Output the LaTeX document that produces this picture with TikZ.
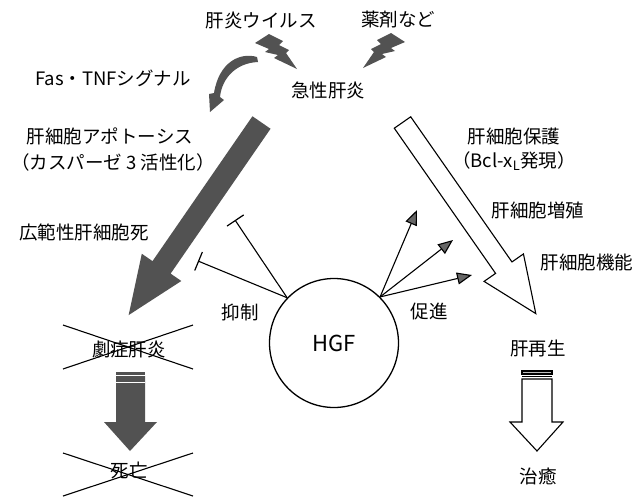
\documentclass[tikz,border=0pt]{standalone}
\usepackage{fontspec}
\setmainfont{Noto Sans CJK JP}
\usetikzlibrary{arrows.meta}
\begin{document}
\begin{tikzpicture}[x=1pt,y=-1pt,
  lbl/.style={font=\fontsize{18.5}{22}\selectfont, inner sep=0pt},
  darkfill/.style={fill=black!68},
  ln/.style={line width=1.1pt},
  promote/.style={ln,-{Triangle[length=15pt,width=12pt,fill=black!60]}},
  inhibit/.style={ln,-{Bar[width=20pt,line width=1.2pt]}},
  bolt/.style={darkfill},
]
\useasboundingbox[fill=white] (0,0) rectangle (641,499);

% texts
\node[lbl] (virus) at (261,20) {肝炎ウイルス};
\node[lbl] (drug) at (398,20) {薬剤など};
\node[lbl] (acute) at (328,90) {急性肝炎};
\node[lbl] (fas) at (113,78) {Fas・TNFシグナル};
\node[lbl] (apop) at (110,136) {肝細胞アポトーシス};
\node[lbl] (casp) at (113,162) {（カスパーゼ 3 活性化）};
\node[lbl] (wide) at (84,232) {広範性肝細胞死};
\node[lbl] (fulm) at (129,349) {劇症肝炎};
\node[lbl] (death) at (129,470) {死亡};
\node[lbl] (inh) at (240,312) {抑制};
\node[lbl] (pro) at (429,312) {促進};
\node[circle,draw,line width=1.3pt,minimum size=129pt,inner sep=0pt,
      font=\fontsize{22}{26}\selectfont] (hgf) at (334,343) {HGF};
\node[lbl] (prot) at (514,136) {肝細胞保護};
\node[lbl] (bcl) at (514,161) {（Bcl-x\textsubscript{L}発現）};
\node[lbl] (prol) at (538,210) {肝細胞増殖};
\node[lbl] (func) at (587,262) {肝細胞機能};
\node[lbl] (regen) at (538,348) {肝再生};
\node[lbl] (cure) at (538,476) {治癒};

% crosses
\draw[ln] (63,325) -- (193,369);
\draw[ln] (63,369) -- (193,325);
\draw[ln] (63,453) -- (193,496);
\draw[ln] (63,496) -- (193,453);

% lightning bolts
\begin{scope}[shift={(297,69)}]
\fill[bolt] (-42,-26) -- (-28,-35) -- (-14,-28) -- (-18,-24) -- (-8,-19) -- (-11,-16) -- (0,0) -- (-23,-11) -- (-19,-14) -- (-32,-17) -- (-28,-20) -- cycle;
\end{scope}
\begin{scope}[shift={(363,68)},xscale=-1]
\fill[bolt] (-42,-26) -- (-28,-35) -- (-14,-28) -- (-18,-24) -- (-8,-19) -- (-11,-16) -- (0,0) -- (-23,-11) -- (-19,-14) -- (-32,-17) -- (-28,-20) -- cycle;
\end{scope}

% curved arrow
\fill[darkfill] (257,57) .. controls (240,52) and (219,62) .. (214,93) -- (209,94) -- (210,112) -- (224,100) -- (220,97) .. controls (222,78) and (236,63) .. (258,62) -- cycle;

% dark diagonal arrow
\begin{scope}[shift={(261.5,122.5)}, rotate=-124.6]
\fill[darkfill] (0,-11) -- (176,-11) -- (176,-24) -- (234,0) -- (176,24) -- (176,11) -- (0,11) -- cycle;
\end{scope}

% white diagonal arrow
\begin{scope}[shift={(402.5,122.5)}, rotate=-55.1]
\draw[ln,fill=white] (0,-10) -- (177,-10) -- (177,-24) -- (233,0) -- (177,24) -- (177,10) -- (0,10) -- cycle;
\end{scope}

% dark vertical arrow
\fill[darkfill] (116,372) rectangle (145,374.5);
\fill[darkfill] (116,376) -- (116,422) -- (104,422) -- (130,451) -- (157,422) -- (145,422) -- (145,376) -- cycle;
\draw[white,line width=1.5pt] (116,382.5) -- (145,382.5);

% white vertical arrow
\draw[ln,fill=black!25] (522,371) rectangle (552,374);
\draw[ln] (522,376.5) -- (552,376.5);
\draw[ln,fill=white] (552,379) -- (522,379) -- (522,422) -- (510,422) -- (537,451) -- (563,422) -- (552,422) -- cycle;

% HGF effects
\coordinate (i1) at (235,220);
\coordinate (i2) at (198,261);
\draw[inhibit] (hgf.136) -- (i1);
\draw[inhibit] (hgf.136) -- (i2);
\coordinate (p1) at (417,210);
\coordinate (p2) at (453,240);
\coordinate (p3) at (472,275);
\draw[promote] (hgf.45) -- (p1);
\draw[promote] (hgf.45) -- (p2);
\draw[promote] (hgf.45) -- (p3);
\end{tikzpicture}
\end{document}
